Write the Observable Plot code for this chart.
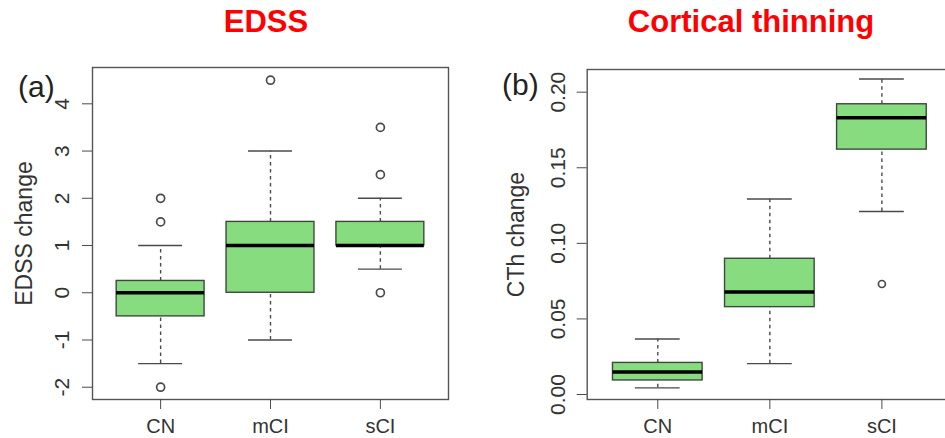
<!DOCTYPE html>
<html>
<head>
<meta charset="utf-8">
<script src="https://cdn.jsdelivr.net/npm/d3@7"></script>
<script src="https://cdn.jsdelivr.net/npm/@observablehq/plot@0.6"></script>
<style>
  html, body { margin: 0; padding: 0; background: #fff; overflow: hidden; }
  #wrap { position: relative; width: 945px; height: 438px; overflow: hidden; font-family: "Liberation Sans", Arial, sans-serif; }
  .title { position: absolute; top: 7px; font-size: 31px; line-height: 30px; font-weight: bold; color: #ff0000; white-space: nowrap; transform: translateX(-50%); }
  .tag { position: absolute; font-size: 30px; line-height: 30px; color: #222; }
  .panel { position: absolute; top: 0; height: 438px; overflow: hidden; }
</style>
</head>
<body>
<div id="wrap">
  <div class="title" style="left:266px">EDSS</div>
  <div class="title" style="left:751px">Cortical thinning</div>
  <div id="pa" class="panel" style="left:0px;width:470px"></div>
  <div id="pb" class="panel" style="left:470px;width:475px"></div>
  <div class="tag" style="left:18px;top:72px">(a)</div>
  <div class="tag" style="left:502px;top:70px">(b)</div>
</div>
<script>
// Groups
const categories = ["CN", "mCI", "sCI"];

// EDSS change box statistics
const edssLow  = [-1.5, -1, 0.5];
const edssQ1   = [-0.5, 0, 1];
const edssMed  = [0, 1, 1];
const edssQ3   = [0.25, 1.5, 1.5];
const edssHigh = [1, 3, 2];
const edssOutlierGroup = ["CN", "CN", "CN", "mCI", "sCI", "sCI", "sCI"];
const edssOutlierValue = [2, 1.5, -2, 4.5, 3.5, 2.5, 0];
const edssTicks = [-2, -1, 0, 1, 2, 3, 4];

// Cortical thinning (CTh change) box statistics
const cthLow  = [0.0044, 0.0204, 0.1211];
const cthQ1   = [0.0093, 0.0578, 0.162];
const cthMed  = [0.0149, 0.0678, 0.1831];
const cthQ3   = [0.0209, 0.0898, 0.192];
const cthHigh = [0.0367, 0.1293, 0.2087];
const cthOutlierGroup = ["sCI"];
const cthOutlierValue = [0.0731];
const cthTicks = [0, 0.05, 0.1, 0.15, 0.2];

function panel(cfg) {
  const rows = categories.map((c, i) => ({
    c, x: i + 1,
    low: cfg.low[i], q1: cfg.q1[i], med: cfg.med[i], q3: cfg.q3[i], high: cfg.high[i]
  }));
  const outs = cfg.outG.map((g, j) => ({x: categories.indexOf(g) + 1, v: cfg.outV[j]}));
  const grey = "#4a4a4a";
  return Plot.plot({
    width: cfg.width,
    height: 438,
    marginLeft: cfg.marginLeft,
    marginRight: cfg.marginRight,
    marginTop: cfg.marginTop,
    marginBottom: 39,
    style: {fontFamily: "Liberation Sans, Arial, sans-serif", fontSize: "21px", color: "#333", maxWidth: "none", background: "transparent"},
    x: {domain: cfg.xDomain},
    y: {domain: cfg.yDomain},
    marks: [
      Plot.ruleX(rows, {x: "x", y1: "q3", y2: "high", stroke: grey, strokeWidth: 1.4, strokeDasharray: "3.5,3.5"}),
      Plot.ruleX(rows, {x: "x", y1: "low", y2: "q1", stroke: grey, strokeWidth: 1.4, strokeDasharray: "3.5,3.5"}),
      Plot.ruleY(rows, {y: "high", x1: d => d.x - 0.2, x2: d => d.x + 0.2, stroke: grey, strokeWidth: 1.4}),
      Plot.ruleY(rows, {y: "low", x1: d => d.x - 0.2, x2: d => d.x + 0.2, stroke: grey, strokeWidth: 1.4}),
      Plot.rect(rows, {x1: d => d.x - 0.4, x2: d => d.x + 0.4, y1: "q1", y2: "q3", fill: "#86dc7e", stroke: "#3c4a3c", strokeWidth: 1.4}),
      Plot.ruleY(rows, {y: "med", x1: d => d.x - 0.4, x2: d => d.x + 0.4, stroke: "#000", strokeWidth: 3.5}),
      Plot.dot(outs, {x: "x", y: "v", r: cfg.r, stroke: grey, strokeWidth: 1.7, fill: "none"}),
      Plot.frame({stroke: "#555", strokeWidth: 1.4}),
      Plot.axisX({ticks: [1, 2, 3], tickFormat: d => categories[d - 1], tickSize: 10, tickPadding: 9, fontSize: 20, label: null, stroke: grey}),
      Plot.axisY({ticks: cfg.ticks, tickFormat: cfg.fmt, tickSize: 10, tickPadding: cfg.tickPad, tickRotate: -90,
                  label: null, stroke: grey}),
      Plot.text([cfg.label], {text: d => d, frameAnchor: "left", textAnchor: "middle", rotate: -90, lineAnchor: "top",
                 dx: -cfg.labelOffset, fontSize: 23, fill: "#333"})
    ]
  });
}

document.getElementById("pa").appendChild(panel({
  width: 470, marginLeft: 92, marginRight: 22, marginTop: 67,
  xDomain: [0.38, 3.62], yDomain: [-2.26, 4.769],
  low: edssLow, q1: edssQ1, med: edssMed, q3: edssQ3, high: edssHigh,
  outG: edssOutlierGroup, outV: edssOutlierValue, r: 4,
  ticks: edssTicks, fmt: d => String(d), tickPad: 14,
  label: "EDSS change", labelOffset: 77
}));

document.getElementById("pb").appendChild(panel({
  width: 490, marginLeft: 116.7, marginRight: 8, marginTop: 69,
  xDomain: [0.37, 3.63], yDomain: [-0.0033, 0.215],
  low: cthLow, q1: cthQ1, med: cthMed, q3: cthQ3, high: cthHigh,
  outG: cthOutlierGroup, outV: cthOutlierValue, r: 3.5,
  ticks: cthTicks, fmt: d3.format(".2f"), tickPad: 12,
  label: "CTh change", labelOffset: 80
}));
</script>
</body>
</html>
